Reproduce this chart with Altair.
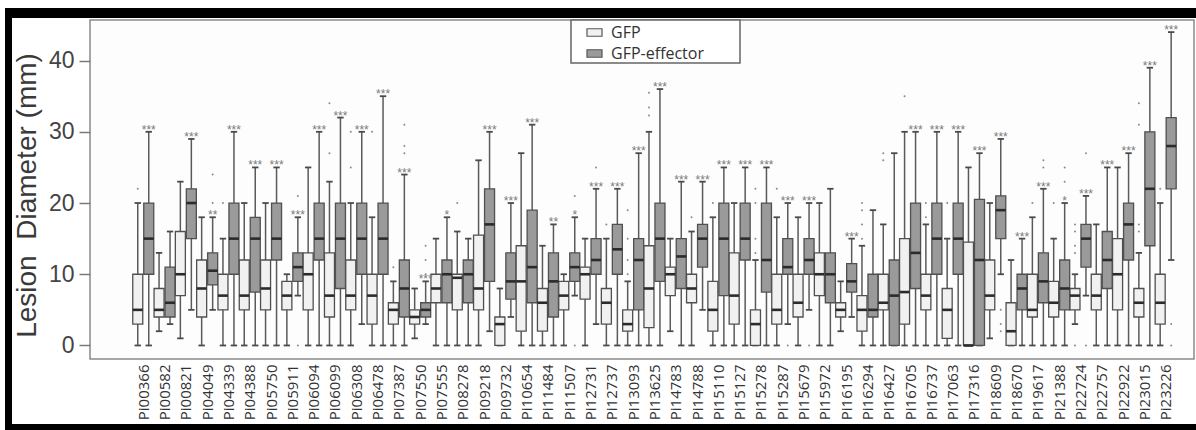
import altair as alt
import pandas as pd

# ---------------- data ----------------
names = ["Pi00366","Pi00582","Pi00821","Pi04049","Pi04339","Pi04388","Pi05750","Pi05911",
         "Pi06094","Pi06099","Pi06308","Pi06478","Pi07387","Pi07550","Pi07555","Pi08278",
         "Pi09218","Pi09732","Pi10654","Pi11484","Pi11507","Pi12731","Pi12737","Pi13093",
         "Pi13625","Pi14783","Pi14788","Pi15110","Pi15127","Pi15278","Pi15287","Pi15679",
         "Pi15972","Pi16195","Pi16294","Pi16427","Pi16705","Pi16737","Pi17063","Pi17316",
         "Pi18609","Pi18670","Pi19617","Pi21388","Pi22724","Pi22757","Pi22922","Pi23015","Pi23226"]

# GFP boxes: lower whisker, Q1, median, Q3, upper whisker
gfp_lo  = [0,2,1,0,0,0,0,0,0,0,0,0,0,1,0,0,0,0,0,0,0,0,0,0,0,2,0,0,0,0,0,0,0,2,0,0,0,0,0,0,1,0,0,0,3,0,0,0,0]
gfp_q1  = [3,4,7,4,5,5,5,5,5,4,5,3,3,3,6,5,5,0,2,2,5,6.5,3,2,2.5,7,6,2,3,0,3,4,7,4,2,5,3,5,1,0,5,0,4,4,5,5,5,4,3]
gfp_med = [5,5,10,8,7,7,8,7,10,7,7,7,5,4,8,9.5,8,3,9,6,7,10,6,3,8,10,8,5,7,3,5,6,10,5,5,6,7.5,7,5,0,7,2,5,6,7,7,10,6,6]
gfp_q3  = [10,8,16,12,10,12,12,9,13,13,12,10,6,5,10,10,15.5,4,14,8,9,11,8,5,14,11,10,9,13,5,10,10,13,6,7,10,15,10,8,14.5,12,6,10,9,8,10,15,8,10]
gfp_hi  = [20,13,23,18,15,20,20,10,25,23,20,18,9,8,15,16,26,8,27,14,10,15,15,9,30,15,16,18,20,12,18,18,20,9,14,17,30,17,15,25,20,12,18,15,10,17,25,13,20]

# GFP-effector boxes
eff_lo  = [0,3,5,5,0,0,0,7,0,0,3,0,0,3,0,0,2,4,0,0,7,3,0,0,0,0,5,0,0,0,3,5,0,4,0,0,0,0,0,0,10,0,0,0,7,0,0,0,12]
eff_q1  = [10,4,15,8.5,10,7.5,12,9,12,8,10,10,4,4,6,6,9,6.5,6,4,9,10,10,5,9,8,11,7,12,7.5,10,10,6,7.5,4,0,8,10,10,0,15,5,6,5,11,8,12,14,22]
eff_med = [15,6,20,10.5,15,15,15,11,15,15,15,15,8,5,10,10,17,9,11,9,11,12,13.5,12,15,12.5,15,15,15,12,11,12,10,9,5,7,13,15,15,12,19,8,9,8,15,12,17,22,28]
eff_q3  = [20,11,22,13,20,18,20,13,20,20,20,20,12,6,12,12,22,13,19,13,13,15,17,15,20,15,17,20,20,20,15,15,13,11.5,10,12,20,20,20,20.5,21,10,13,12,17,16,20,30,32]
eff_hi  = [30,16,29,18,30,25,25,18,30,32,30,35,24,9,18,15,30,20,31,17,18,22,22,27,36,23,23,25,25,25,20,20,22,15,19,27,30,30,30,27,29,15,22,20,21,25,27,39,44]
eff_sig = ["***","","***","**","***","***","***","***","***","***","***","***","***","***","*","",
           "***","***","***","**","*","***","***","***","***","***","***","***","***","***","***","***",
           "","***","","","***","***","***","***","***","***","***","*","***","***","***","***","***"]

# outlying points: category index, series, value
out_idx = [0,3,3,4,7,7,9,9,10,10,11,12,12,12,12,13,13,13,15,20,20,21,22,23,23,23,23,24,24,24,
           26,27,29,29,29,29,30,30,31,34,34,34,34,35,35,36,37,37,38,40,40,40,42,42,42,43,43,43,
           44,44,44,44,44,44,44,47,47,47,47,48,48,48]
out_grp = ["GFP","GFP-effector","GFP-effector","GFP","GFP-effector","GFP-effector","GFP","GFP","GFP","GFP",
           "GFP","GFP","GFP-effector","GFP-effector","GFP-effector","GFP-effector","GFP-effector","GFP-effector",
           "GFP","GFP-effector","GFP-effector","GFP-effector","GFP","GFP","GFP","GFP","GFP","GFP","GFP","GFP",
           "GFP","GFP","GFP","GFP","GFP","GFP","GFP","GFP-effector","GFP-effector","GFP","GFP","GFP","GFP",
           "GFP","GFP","GFP","GFP","GFP","GFP","GFP-effector","GFP-effector","GFP-effector","GFP",
           "GFP-effector","GFP-effector","GFP","GFP-effector","GFP-effector","GFP","GFP","GFP","GFP","GFP",
           "GFP-effector","GFP-effector","GFP","GFP","GFP","GFP","GFP","GFP-effector","GFP-effector"]
out_val = [22,24,20,20,21,0,34,27,30,25,30,11,31,28,27,14,12,10,20,21,0,25,17,19,15,12,10,35.5,33.4,32.3,
           18,20,22,20,15,13,22,0,0,20,19,17,15,27,26,35,20,18,20,5,3,2,20,26,25,20,25,23,
           17,16,14,13,0,27,0,34,31,17,16,22,3,0]

groups = ["GFP", "GFP-effector"]

rows = []
for i, n in enumerate(names):
    rows.append(dict(idx=i, cat=n, group="GFP", lo=gfp_lo[i], q1=gfp_q1[i], med=gfp_med[i],
                     q3=gfp_q3[i], hi=gfp_hi[i], sig=""))
    rows.append(dict(idx=i, cat=n, group="GFP-effector", lo=eff_lo[i], q1=eff_q1[i], med=eff_med[i],
                     q3=eff_q3[i], hi=eff_hi[i], sig=eff_sig[i]))
boxes = pd.DataFrame(rows)
outs = pd.DataFrame(dict(idx=out_idx, group=out_grp, val=out_val))

# ---------------- scales / axes ----------------
label_js = "[" + ",".join("'%s'" % n for n in names) + "][datum.value]"
xscale = alt.Scale(domain=[-2.5, 49.33], nice=False, zero=False)
yscale = alt.Scale(domain=[-1.9, 45.7], nice=False, zero=False)
xaxis = alt.Axis(values=list(range(len(names))), labelExpr=label_js, labelAngle=-90,
                 labelFont="Open Sans", labelFontSize=15, labelColor="#333333",
                 labelPadding=5, ticks=False, domain=False, grid=False,
                 labelOverlap=False, labelFlush=False, labelBound=False)
yaxis = alt.Axis(values=[0, 10, 20, 30, 40], labelFont="Liberation Sans", labelFontSize=23,
                 labelColor="#444444", tickColor="#7a7a7a", tickSize=11, tickWidth=1.5,
                 labelPadding=5, domain=False, grid=False,
                 title="Lesion\u00a0 Diameter (mm)", titleFont="Liberation Sans",
                 titleFontSize=28, titleFontWeight="normal", titleColor="#3a3a3a",
                 titleAngle=-90, titleX=-55, titleY=175, titleAlign="center",
                 titleBaseline="alphabetic")


def X(field):
    return alt.X(field, type="quantitative", scale=xscale, axis=xaxis, title=None)


def Y(field):
    return alt.Y(field, type="quantitative", scale=yscale, axis=yaxis)


pos_expr = "datum.idx + (datum.group == 'GFP' ? -0.258 : 0.258)"
base = alt.Chart(boxes).transform_calculate(pos=pos_expr).transform_calculate(
    left="datum.pos - 0.235", right="datum.pos + 0.235",
    capl="datum.pos - 0.15", capr="datum.pos + 0.15")

whisk = base.mark_rule(color="#5a5a5a", strokeWidth=1.5).encode(
    x=X("pos"), y=Y("lo"), y2="hi")
cap_hi = base.mark_rule(color="#4a4a4a", strokeWidth=1.8).encode(
    x=X("capl"), x2="capr", y=Y("hi"))
cap_lo = base.mark_rule(color="#4a4a4a", strokeWidth=1.8).encode(
    x=X("capl"), x2="capr", y=Y("lo"))

fill = alt.Fill("group:N", scale=alt.Scale(domain=groups, range=["#f1f1f1", "#9a9a9a"]),
                legend=alt.Legend(title=None, orient="none", legendX=481, legendY=0,
                                  symbolType="M-1,-0.5L1,-0.5L1,0.5L-1,0.5Z", symbolSize=225,
                                  symbolStrokeColor="#555555", symbolStrokeWidth=1.2,
                                  symbolOffset=11, labelOffset=8,
                                  labelFont="Open Sans", labelFontSize=16, labelColor="#333333",
                                  rowPadding=4, padding=4))
box = base.mark_rect(stroke="#505050", strokeWidth=1.3).encode(
    x=X("left"), x2="right", y=Y("q1"), y2="q3", fill=fill)
median = base.mark_rule(color="#2b2b2b", strokeWidth=2.6).encode(
    x=X("left"), x2="right", y=Y("med"))
stars = base.transform_filter("datum.sig != ''").mark_text(
    font="Liberation Sans", fontSize=12, color="#7a7a7a", baseline="alphabetic", dy=2).encode(
    x=X("pos"), y=Y("hi"), text="sig:N")

pts = alt.Chart(outs).transform_calculate(pos=pos_expr).mark_circle(
    size=4, color="#8a8a8a", opacity=1).encode(x=X("pos"), y=Y("val"))

# decorations: legend frame and the outer black frame of the figure
one = pd.DataFrame({"k": [0]})
legend_box = alt.Chart(one).mark_rect(fill="white", stroke="#666666", strokeWidth=1.5,
                                      clip=False).encode(
    x=alt.value(481), x2=alt.value(650), y=alt.value(0), y2=alt.value(43))
frame_left = alt.Chart(one).mark_rect(color="black", clip=False).encode(
    x=alt.value(-85), x2=alt.value(-78), y=alt.value(-12), y2=alt.value(412))
frame_top = alt.Chart(one).mark_rect(color="black", clip=False).encode(
    x=alt.value(-85), x2=alt.value(1110), y=alt.value(-12), y2=alt.value(-2))
frame_bot = alt.Chart(one).mark_rect(color="black", clip=False).encode(
    x=alt.value(-85), x2=alt.value(1110), y=alt.value(404), y2=alt.value(412))

chart = alt.layer(whisk, cap_hi, cap_lo, box, median, stars, pts, legend_box,
                  frame_left, frame_top, frame_bot).properties(
    width=1104, height=339,
    autosize=alt.AutoSizeParams(type="none"),
    padding={"left": 90, "top": 20, "right": 2, "bottom": 71},
    background="white",
).configure_view(stroke="#8a8a8a", strokeWidth=1.5, fill="#fdfdfd")

chart.save("out.html", embed_options={"renderer": "svg", "actions": False})
